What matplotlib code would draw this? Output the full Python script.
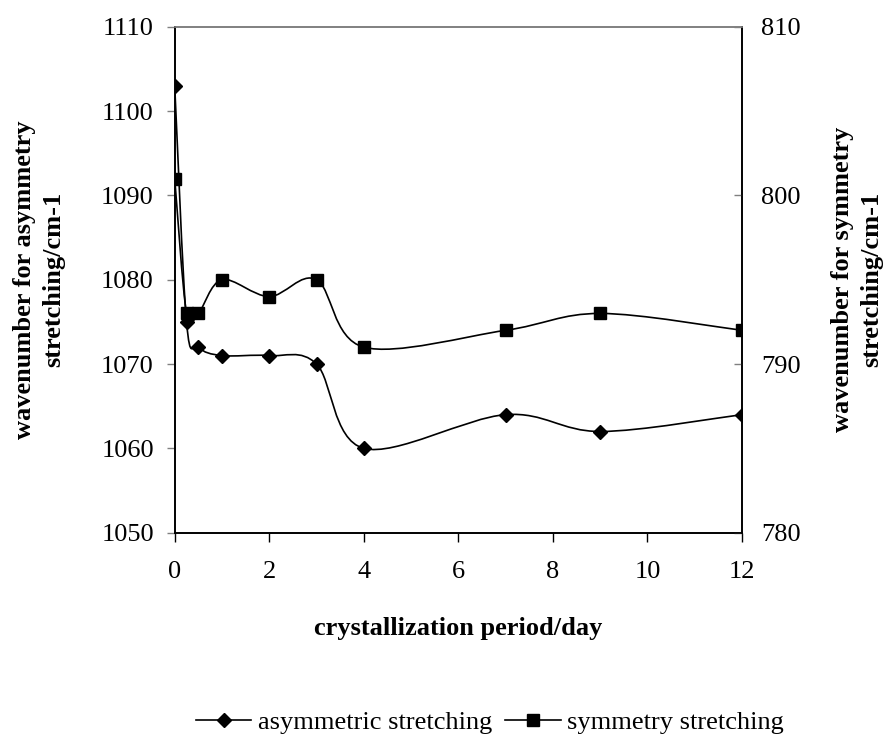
import matplotlib.pyplot as plt
from matplotlib.path import Path
from matplotlib.patches import PathPatch
from matplotlib.lines import Line2D

# crystallization period (days)
days = [0, 0.25, 0.5, 1, 2, 3, 4, 7, 9, 12]
# asymmetric stretching, left axis (cm-1)
asym = [1103, 1075, 1072, 1071, 1071, 1070, 1060, 1064, 1062, 1064]
# symmetric stretching, right axis (cm-1)
sym = [801, 793, 793, 795, 794, 795, 791, 792, 793, 792]

plt.rcParams['font.family'] = ['Liberation Serif', 'DejaVu Serif']
FS = 19


def smooth_path(xs, ys):
    # Excel-like smoothed line: Catmull-Rom segments as cubic Bezier
    pts = list(zip(xs, ys))
    verts = [pts[0]]
    codes = [Path.MOVETO]
    n = len(pts)
    for i in range(n - 1):
        p0 = pts[i - 1] if i > 0 else pts[i]
        p1 = pts[i]
        p2 = pts[i + 1]
        p3 = pts[i + 2] if i + 2 < n else pts[i + 1]
        c1 = (p1[0] + (p2[0] - p0[0]) / 6, p1[1] + (p2[1] - p0[1]) / 6)
        c2 = (p2[0] - (p3[0] - p1[0]) / 6, p2[1] - (p3[1] - p1[1]) / 6)
        verts += [c1, c2, p2]
        codes += [Path.CURVE4] * 3
    return Path(verts, codes)


fig = plt.figure(figsize=(8.91, 7.37), dpi=100)
ax = fig.add_axes([174.7 / 891, 1 - 532.7 / 737, (742 - 174.7) / 891, (532.7 - 26.7) / 737])
ax2 = ax.twinx()

ax.add_patch(PathPatch(smooth_path(days, asym), fill=False, lw=1.2, color='black', zorder=3))
ax.plot(days, asym, linestyle='none', marker='D', ms=7, color='black', zorder=4)
ax2.add_patch(PathPatch(smooth_path(days, sym), fill=False, lw=1.2, color='black', zorder=3))
ax2.plot(days, sym, linestyle='none', marker='s', ms=8, color='black', zorder=4)

ax.set_xlim(0, 12)
ax.set_ylim(1050, 1110)
ax2.set_ylim(780, 810)
ax.set_xticks(range(0, 13, 2))
ax.set_yticks(range(1050, 1111, 10))
ax2.set_yticks(range(780, 811, 10))

ax.tick_params(axis='x', direction='out', length=6.5, width=1, labelsize=FS, pad=14)
ax.tick_params(axis='y', direction='out', length=6, width=1, color='#808080', labelsize=FS, pad=9)
ax2.tick_params(axis='y', direction='in', length=6, width=1, color='#808080', labelsize=FS, pad=14)

for a in (ax, ax2):
    a.spines['top'].set_color('#808080')
    a.spines['left'].set_color('black')
    a.spines['right'].set_color('black')
    a.spines['bottom'].set_color('black')
    for s in a.spines.values():
        s.set_linewidth(1.2)

fig.text(458, 628, 'crystallization period/day', transform=None, ha='center', va='center',
         fontsize=FS, fontweight='bold')
fig.text(39, 279.7, 'wavenumber for asymmetry\nstretching/cm-1', transform=None,
         rotation=90, ha='center', va='center', multialignment='center',
         fontsize=FS, fontweight='bold', linespacing=1.35)
fig.text(857, 279.7, 'wavenumber for symmetry\nstretching/cm-1', transform=None,
         rotation=90, ha='center', va='center', multialignment='center',
         fontsize=FS, fontweight='bold', linespacing=1.35)

# transform=None uses pixel coords from bottom; convert
for t in fig.texts:
    x, y = t.get_position()
    t.set_position((x / 891, 1 - y / 737))
    t.set_transform(fig.transFigure)

handles = [
    Line2D([], [], color='black', lw=1.2, marker='D', ms=7),
    Line2D([], [], color='black', lw=1.2, marker='s', ms=8),
]
fig.legend(handles, ['asymmetric stretching', 'symmetry stretching'], loc='center',
           bbox_to_anchor=(490 / 891, 1 - 722 / 737), ncol=2, frameon=False, fontsize=FS,
           handlelength=2.1, handletextpad=0.25, columnspacing=0.5)

fig.savefig('out.png', dpi=100)
